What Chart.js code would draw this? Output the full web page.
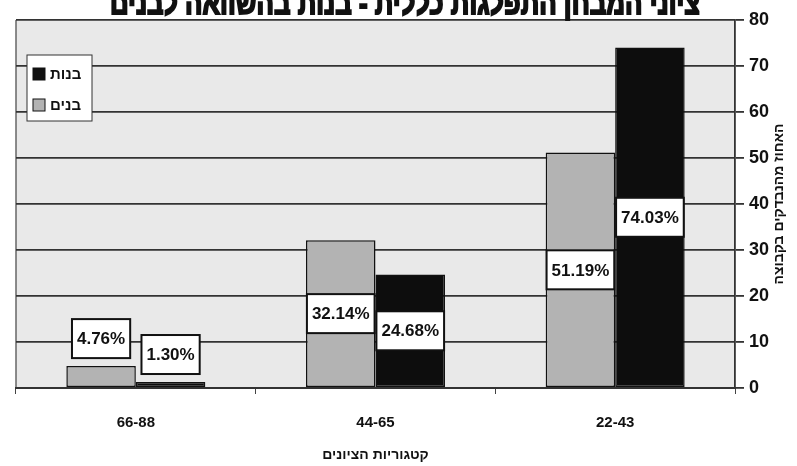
<!DOCTYPE html>
<html>
<head>
<meta charset="utf-8">
<script src="https://cdn.jsdelivr.net/npm/chart.js@4.4.1/dist/chart.umd.min.js"></script>
<style>
	html, body { margin: 0; padding: 0; background: #fff; }
	#wrap { width: 797px; height: 466px; }
</style>
</head>
<body>
<div id="wrap"><canvas id="myChart" width="797" height="466"></canvas></div>
<script>
"use strict";

/* Data */
const categories = ['66-88', '44-65', '22-43'];
const boysValues = [4.76, 32.14, 51.19];   // בנים
const girlsValues = [1.30, 24.68, 74.03];  // בנות
const seriesNames = ['בנים', 'בנות'];
const yMin = 0;
const yMax = 80;
const yStep = 10;

const titleText = 'ציוני המבחן התפלגות כללית - בנות בהשוואה לבנים';
const xTitle = 'קטגוריות הציונים';
const yTitle = 'האחוז מהנבדקים בקבוצה';

const FONT = "'Liberation Sans', Arial, sans-serif";

/* Plot frame, titles, legend, value boxes */
const decorPlugin = {
	id: 'decor',
	beforeDraw(chart) {
		const { ctx, chartArea: a } = chart;
		ctx.save();
		ctx.fillStyle = '#e9e9e9';
		ctx.fillRect(a.left, a.top, a.right - a.left, a.bottom - a.top);
		ctx.strokeStyle = '#666';
		ctx.lineWidth = 1.5;
		ctx.beginPath();
		ctx.moveTo(a.left, a.top);
		ctx.lineTo(a.left, a.bottom);
		ctx.stroke();
		ctx.restore();
	},
	afterDatasetsDraw(chart) {
		const { ctx } = chart;
		ctx.save();
		ctx.font = 'bold 17px ' + FONT;
		ctx.textAlign = 'center';
		ctx.textBaseline = 'middle';
		chart.data.datasets.forEach((ds, i) => {
			const meta = chart.getDatasetMeta(i);
			meta.data.forEach((bar, j) => {
				const txt = ds.data[j].toFixed(2) + '%';
				const w = ctx.measureText(txt).width + 10;
				const h = 39;
				let cy = (bar.y + bar.base) / 2;
				if (bar.base - bar.y < h + 4) {
					cy = bar.y - 8 - h / 2;
				}
				ctx.fillStyle = '#fff';
				ctx.fillRect(bar.x - w / 2, cy - h / 2, w, h);
				ctx.strokeStyle = '#111';
				ctx.lineWidth = 2;
				ctx.strokeRect(bar.x - w / 2, cy - h / 2, w, h);
				ctx.fillStyle = '#111';
				ctx.fillText(txt, bar.x, cy + 1);
			});
		});
		ctx.restore();
	},
	afterDraw(chart) {
		const { ctx, chartArea: a } = chart;
		ctx.save();

		// chart title (top half cut off like the scan)
		ctx.font = 'bold 32px ' + FONT;
		ctx.fillStyle = '#111';
		ctx.strokeStyle = '#111';
		ctx.lineWidth = 2;
		ctx.textAlign = 'left';
		ctx.textBaseline = 'alphabetic';
		const tw = ctx.measureText(titleText).width;
		const sx = 590 / tw;
		ctx.save();
		ctx.translate(110, 14);
		ctx.scale(sx, 1);
		ctx.fillText(titleText, 0, 0);
		ctx.strokeText(titleText, 0, 0);
		ctx.restore();

		// x axis title
		ctx.font = 'bold 14px ' + FONT;
		ctx.textAlign = 'center';
		ctx.textBaseline = 'middle';
		ctx.fillText(xTitle, (a.left + a.right) / 2, 455);

		// y axis title, rotated
		ctx.save();
		ctx.translate(779, (a.top + a.bottom) / 2);
		ctx.rotate(-Math.PI / 2);
		ctx.fillText(yTitle, 0, 0);
		ctx.restore();

		// legend
		const lx = 27, ly = 55, lw = 65, lh = 66;
		ctx.fillStyle = '#fff';
		ctx.fillRect(lx, ly, lw, lh);
		ctx.strokeStyle = '#333';
		ctx.lineWidth = 1;
		ctx.strokeRect(lx, ly, lw, lh);
		const items = [
			{ name: seriesNames[1], color: '#111', y: ly + 19 },
			{ name: seriesNames[0], color: '#b3b3b3', y: ly + 50 }
		];
		items.forEach(it => {
			ctx.fillStyle = it.color;
			ctx.fillRect(lx + 6, it.y - 6, 12, 12);
			ctx.strokeStyle = '#111';
			ctx.strokeRect(lx + 6, it.y - 6, 12, 12);
			ctx.fillStyle = '#111';
			ctx.font = 'bold 15px ' + FONT;
			ctx.textAlign = 'left';
			ctx.fillText(it.name, lx + 23, it.y + 1);
		});
		ctx.restore();
	}
};

const data = {
	labels: categories,
	datasets: [
		{
			label: seriesNames[0],
			data: boysValues,
			backgroundColor: '#b3b3b3',
			borderColor: '#111',
			borderWidth: 1.5,
			borderSkipped: false
		},
		{
			label: seriesNames[1],
			data: girlsValues,
			backgroundColor: '#0d0d0d',
			borderColor: '#111',
			borderWidth: 1.5,
			borderSkipped: false
		}
	]
};

const config = {
	type: 'bar',
	data: data,
	options: {
		responsive: false,
		animation: false,
		devicePixelRatio: 1,
		layout: { padding: { top: 20, left: 16, right: 0, bottom: 0 } },
		categoryPercentage: 0.58,
		barPercentage: 1.0,
		plugins: {
			legend: { display: false },
			tooltip: { enabled: false }
		},
		scales: {
			x: {
				offset: true,
				grid: { display: true, drawOnChartArea: false, offset: true, tickLength: 6, color: '#444' },
				border: { color: '#333', width: 2 },
				ticks: { color: '#111', font: { family: FONT, size: 15, weight: 'bold' }, padding: 20 },
				afterFit(scale) { scale.height = 78; }
			},
			y: {
				position: 'right',
				min: yMin,
				max: yMax,
				grid: { color: '#333', lineWidth: 1.8, tickLength: 9 },
				border: { color: '#333', width: 1.8 },
				ticks: {
					stepSize: yStep,
					color: '#111',
					padding: 5,
					font: { family: FONT, size: 18, weight: 'bold' }
				},
				afterFit(scale) { scale.width = 62; }
			}
		}
	},
	plugins: [decorPlugin]
};

const myChart = new Chart(document.getElementById('myChart'), config);
</script>
</body>
</html>
